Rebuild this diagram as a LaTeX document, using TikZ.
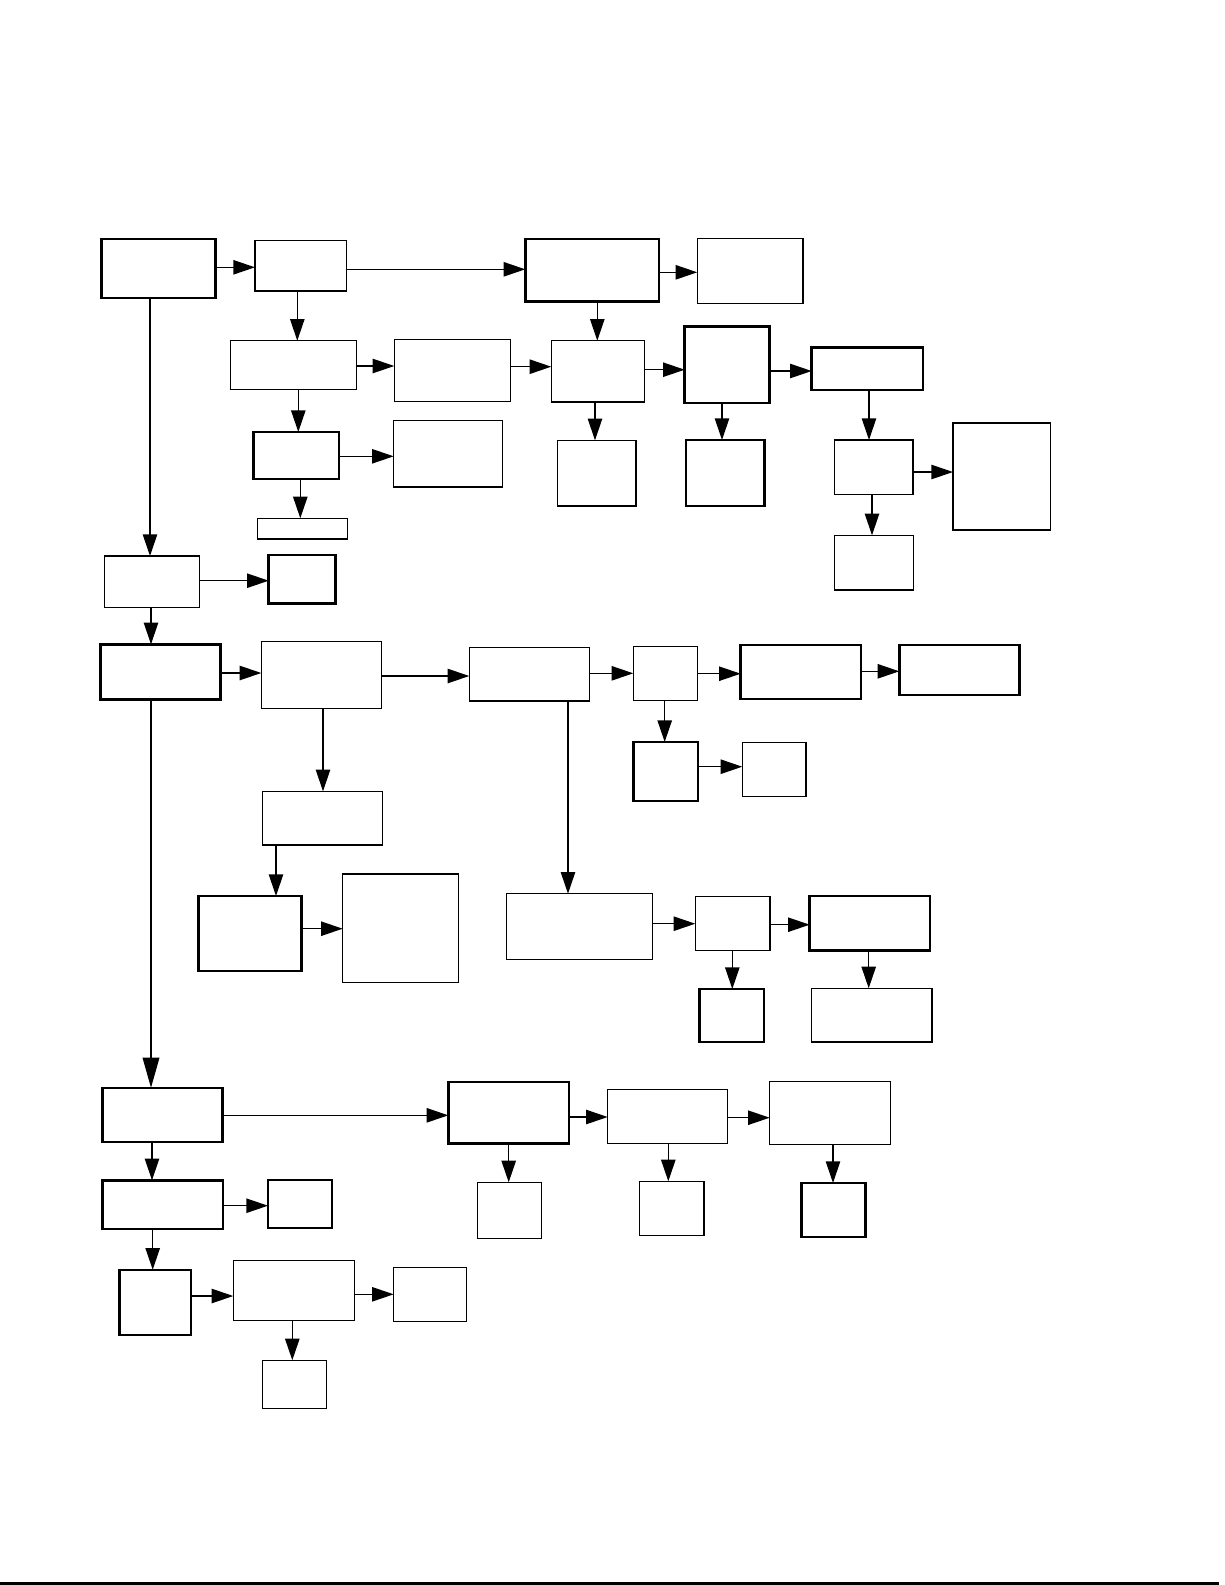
\documentclass[tikz,border=0pt]{standalone}
\usetikzlibrary{arrows.meta}
\begin{document}
\begin{tikzpicture}[x=0.6pt,y=-0.6pt,
  box/.style={draw=black,fill=white,line width=0.9pt,inner sep=0pt,outer sep=0pt},
  tbox/.style={box,line width=1.45pt},
  arr/.style={draw=black,line width=0.9pt,-{Triangle[length=13pt,width=8.6pt]}},
  bigarr/.style={draw=black,line width=0.9pt,-{Triangle[length=18pt,width=10pt]}}]
\useasboundingbox (0,0) rectangle (1225,1585);
\newcommand{\bx}[6][box]{%
  \pgfmathsetmacro\bw{0.6*(#5-#3)}\pgfmathsetmacro\bh{0.6*(#6-#4)}%
  \node[#1,minimum width=\bw pt,minimum height=\bh pt] (#2) at ({(#3+#5)/2},{(#4+#6)/2}) {};}
% boxes
\bx[tbox]{A}{101.7}{239}{215.3}{298}
\bx{B}{255}{240.3}{346.7}{291}
\bx[tbox]{C}{525.3}{239}{659}{301.7}
\bx{D}{697.3}{238.3}{803}{303.3}
\bx{E}{230.3}{340.7}{356.3}{389.3}
\bx{F}{394.3}{339.3}{510.5}{401.3}
\bx{G}{551.3}{340.7}{644.3}{402}
\bx[tbox]{H}{684.7}{326.7}{769.3}{403}
\bx[tbox]{I}{811.7}{347.3}{923}{390}
\bx[tbox]{J}{253.7}{432}{339}{479}
\bx{K}{393.7}{420.7}{502.7}{487}
\bx{L}{257.3}{518.3}{347.7}{539}
\bx{M}{557.7}{440.3}{636}{506}
\bx[tbox]{N}{686}{440}{764.3}{505.7}
\bx{O}{834.7}{440}{913}{494.7}
\bx{P}{953}{423}{1050.5}{530}
\bx{Q}{834.7}{535.3}{913.3}{590}
\bx{R}{104.3}{556}{199.3}{607.3}
\bx[tbox]{S}{268.7}{555}{335.3}{603.3}
\bx[tbox]{T}{100.3}{644.3}{220.3}{699.3}
\bx{U}{261.3}{641.3}{381.7}{708.3}
\bx{V}{469.3}{647.3}{589.3}{701}
\bx{AA}{633.3}{646.3}{697.3}{700.3}
\bx[tbox]{AB}{740.7}{644.7}{861}{699}
\bx[tbox]{AC}{899.3}{644.7}{1019.3}{695}
\bx[tbox]{AD}{633.7}{742}{698}{801}
\bx{AE}{742.3}{742.7}{806}{796.7}
\bx{W}{262.3}{791.3}{382.3}{845}
\bx[tbox]{X}{198.3}{896}{301.3}{971}
\bx{Y}{342.7}{874}{458.3}{982.7}
\bx{Z}{506.3}{893.7}{652.3}{959.3}
\bx{AF}{695.3}{896.3}{770}{950.3}
\bx[tbox]{AG}{809.7}{896}{930}{950.3}
\bx[tbox]{AH}{699.7}{989}{764}{1042}
\bx{AI}{811.7}{988.3}{932}{1042}
\bx[tbox]{BA}{102.3}{1087.7}{222.3}{1142}
\bx[tbox]{BB}{448.3}{1081.7}{569}{1143.3}
\bx{BI}{607.7}{1089.3}{727.7}{1143.3}
\bx{BJ}{769.7}{1081.3}{890.3}{1144.3}
\bx{BK}{477.3}{1182.3}{541.3}{1238.3}
\bx{BL}{639.7}{1181.3}{704}{1235.3}
\bx[tbox]{BM}{801.7}{1183}{865.7}{1237}
\bx[tbox]{BC}{102.3}{1180.3}{223}{1229}
\bx[tbox]{BD}{268}{1179.7}{332}{1228}
\bx[tbox]{BE}{119.3}{1269.7}{191}{1335}
\bx{BF}{233.3}{1260.7}{354.3}{1320.3}
\bx{BG}{393.7}{1267.3}{466.3}{1321.3}
\bx{BH}{262.3}{1360.3}{326.3}{1408.3}
% connectors
\newcommand{\harr}[4][arr]{\draw[#1] (#2.east |- 0,#4) -- (#3.west |- 0,#4);}
\newcommand{\varr}[4][arr]{\draw[#1] (#2.south -| #4,0) -- (#3.north -| #4,0);}
\harr{A}{B}{267.3}
\harr{B}{C}{269.3}
\harr{C}{D}{272.3}
\varr{A}{R}{150}
\varr{B}{E}{297.3}
\harr{E}{F}{366}
\harr{F}{G}{366.7}
\varr{C}{G}{597.3}
\harr{G}{H}{369.7}
\harr{H}{I}{371}
\varr{E}{J}{298.3}
\harr{J}{K}{456.3}
\varr{J}{L}{300.3}
\varr{G}{M}{595}
\varr{H}{N}{722}
\varr{I}{O}{869}
\harr{O}{P}{472}
\varr{O}{Q}{872}
\harr{R}{S}{580.7}
\varr{R}{T}{151}
\harr{T}{U}{673}
\harr{U}{V}{676}
\varr{U}{W}{323}
\varr{W}{X}{276}
\harr{X}{Y}{928.7}
\varr{V}{Z}{568}
\harr{V}{AA}{673.3}
\harr{AA}{AB}{673.7}
\harr{AB}{AC}{671.3}
\varr{AA}{AD}{664.7}
\harr{AD}{AE}{766.7}
\harr{Z}{AF}{923.7}
\harr{AF}{AG}{924.7}
\varr{AF}{AH}{732.3}
\varr{AG}{AI}{868.7}
\varr[bigarr]{T}{BA}{151}
\harr{BA}{BB}{1115.3}
\harr{BB}{BI}{1117}
\harr{BI}{BJ}{1117.7}
\varr{BB}{BK}{508.7}
\varr{BI}{BL}{668.3}
\varr{BJ}{BM}{833}
\varr{BA}{BC}{152}
\harr{BC}{BD}{1205.7}
\varr{BC}{BE}{152.7}
\harr{BE}{BF}{1296}
\harr{BF}{BG}{1294.3}
\varr{BF}{BH}{292.3}
% bottom rule
\coordinate (rl) at (0,1583);
\coordinate (rr) at (1219,1583);
\draw[line width=1.8pt] (rl) -- (rr);
\end{tikzpicture}
\end{document}
